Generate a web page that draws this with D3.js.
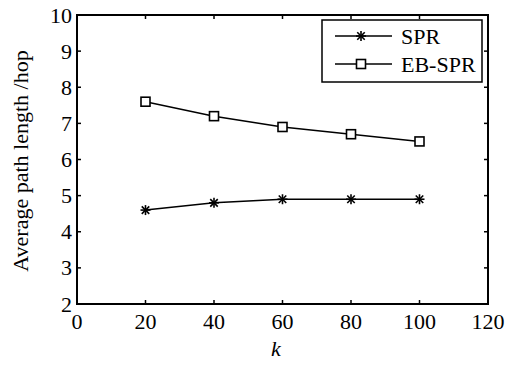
<!DOCTYPE html>
<html>
<head>
<meta charset="utf-8">
<script src="https://cdn.jsdelivr.net/npm/d3@7"></script>
<style>
  body { margin: 0; background: #fff; }
  text { font-family: "Liberation Serif", "Times New Roman", serif; fill: #000; }
</style>
</head>
<body>
<svg id="chart" width="508" height="365"></svg>
<script>
// data
const kValues = [20, 40, 60, 80, 100];
const sprValues = [4.6, 4.8, 4.9, 4.9, 4.9];
const ebSprValues = [7.6, 7.2, 6.9, 6.7, 6.5];
const xTicks = [0, 20, 40, 60, 80, 100, 120];
const yTicks = [2, 3, 4, 5, 6, 7, 8, 9, 10];

const svg = d3.select('#chart');
const padL = 77, padR = 488, padT = 15, padB = 304;

const x = d3.scaleLinear().domain([0, 120]).range([padL, padR]);
const y = d3.scaleLinear().domain([2, 10]).range([padB, padT]);

// ticks (inward, on all four sides)
const tl = 4;
const g = svg.append('g').attr('stroke', '#000').attr('stroke-width', 1.5);
xTicks.forEach(function (t) {
  g.append('line').attr('x1', x(t)).attr('x2', x(t)).attr('y1', padB).attr('y2', padB - tl);
  g.append('line').attr('x1', x(t)).attr('x2', x(t)).attr('y1', padT).attr('y2', padT + tl);
});
yTicks.forEach(function (t) {
  g.append('line').attr('x1', padL).attr('x2', padL + tl).attr('y1', y(t)).attr('y2', y(t));
  g.append('line').attr('x1', padR).attr('x2', padR - tl).attr('y1', y(t)).attr('y2', y(t));
});

// frame
svg.append('rect')
  .attr('x', padL).attr('y', padT)
  .attr('width', padR - padL).attr('height', padB - padT)
  .attr('fill', 'none').attr('stroke', '#000').attr('stroke-width', 2);

// tick labels
svg.selectAll('.xl').data(xTicks).enter().append('text')
  .attr('x', function (d) { return x(d); })
  .attr('y', padB + 25)
  .attr('text-anchor', 'middle')
  .style('font-size', '22px')
  .text(function (d) { return d; });

svg.selectAll('.yl').data(yTicks).enter().append('text')
  .attr('x', padL - 5)
  .attr('y', function (d) { return y(d) + 7.5; })
  .attr('text-anchor', 'end')
  .style('font-size', '22px')
  .text(function (d) { return d; });

// axis titles
svg.append('text')
  .attr('x', 276).attr('y', 356)
  .attr('text-anchor', 'middle')
  .style('font-size', '22px').style('font-style', 'italic')
  .text('k');

svg.append('text')
  .attr('transform', 'translate(28,161) rotate(-90)')
  .attr('text-anchor', 'middle')
  .style('font-size', '22px')
  .text('Average path length /hop');

const line = d3.line()
  .x(function (d) { return x(d[0]); })
  .y(function (d) { return y(d[1]); });

function asterisk(sel, cx, cy) {
  const r = 5;
  const a = sel.append('g').attr('stroke', '#000').attr('stroke-width', 1.6);
  a.append('line').attr('x1', cx - r).attr('x2', cx + r).attr('y1', cy).attr('y2', cy);
  a.append('line').attr('x1', cx).attr('x2', cx).attr('y1', cy - r).attr('y2', cy + r);
  a.append('line').attr('x1', cx - r * 0.75).attr('x2', cx + r * 0.75).attr('y1', cy - r * 0.75).attr('y2', cy + r * 0.75);
  a.append('line').attr('x1', cx - r * 0.75).attr('x2', cx + r * 0.75).attr('y1', cy + r * 0.75).attr('y2', cy - r * 0.75);
}

function square(sel, cx, cy) {
  sel.append('rect')
    .attr('x', cx - 4.5).attr('y', cy - 4.5)
    .attr('width', 9).attr('height', 9)
    .attr('fill', '#fff').attr('stroke', '#000').attr('stroke-width', 1.6);
}

// SPR
svg.append('path')
  .datum(d3.zip(kValues, sprValues))
  .attr('d', line)
  .attr('fill', 'none').attr('stroke', '#000').attr('stroke-width', 1.5);
kValues.forEach(function (k, i) { asterisk(svg, x(k), y(sprValues[i])); });

// EB-SPR
svg.append('path')
  .datum(d3.zip(kValues, ebSprValues))
  .attr('d', line)
  .attr('fill', 'none').attr('stroke', '#000').attr('stroke-width', 1.5);
kValues.forEach(function (k, i) { square(svg, x(k), y(ebSprValues[i])); });

// legend
const lg = svg.append('g');
lg.append('rect')
  .attr('x', 322).attr('y', 20).attr('width', 160).attr('height', 62)
  .attr('fill', '#fff').attr('stroke', '#000').attr('stroke-width', 1.5);
lg.append('line').attr('x1', 335).attr('x2', 392).attr('y1', 36).attr('y2', 36)
  .attr('stroke', '#000').attr('stroke-width', 1.5);
asterisk(lg, 361, 36);
lg.append('text').attr('x', 401).attr('y', 43.5).style('font-size', '22px').text('SPR');
lg.append('line').attr('x1', 335).attr('x2', 392).attr('y1', 64).attr('y2', 64)
  .attr('stroke', '#000').attr('stroke-width', 1.5);
square(lg, 361, 64);
lg.append('text').attr('x', 401).attr('y', 71.5).style('font-size', '22px').text('EB-SPR');
</script>
</body>
</html>
